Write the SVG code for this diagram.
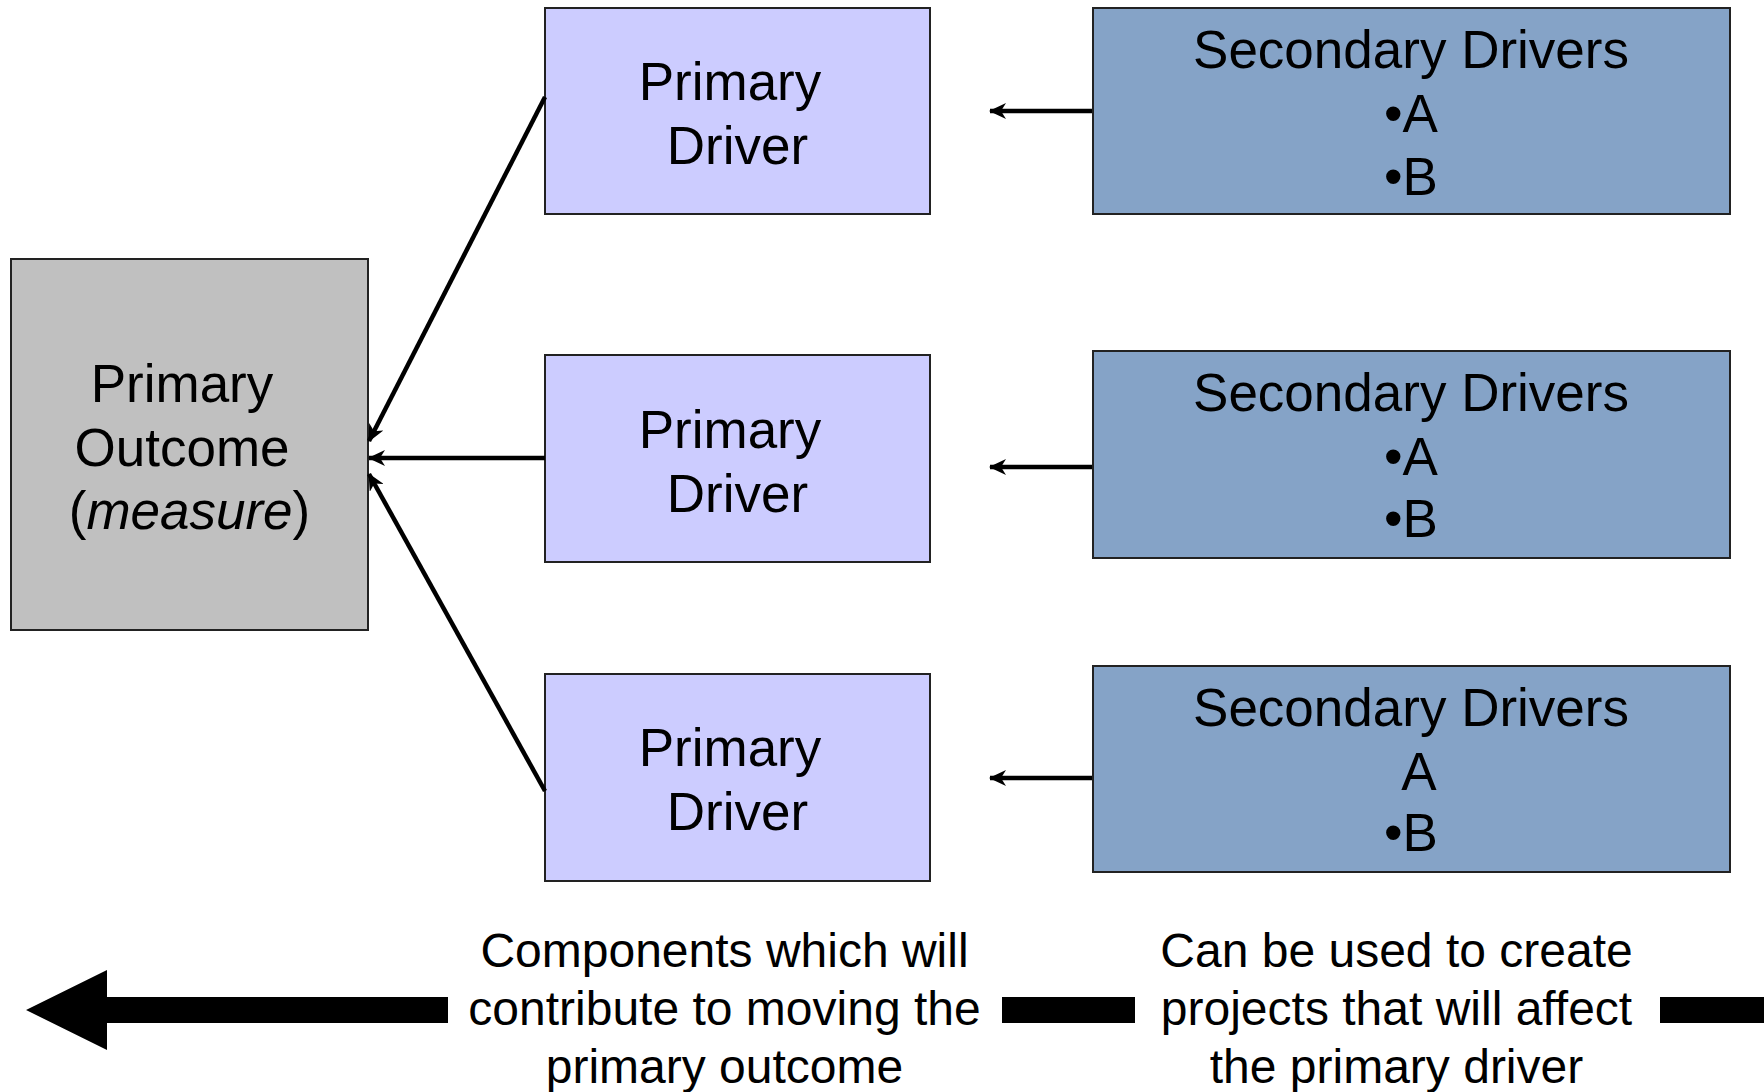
<svg xmlns="http://www.w3.org/2000/svg" width="1764" height="1092" viewBox="0 0 1764 1092">
<style>
  text { font-family: "Liberation Sans", Arial, sans-serif; fill: #000; text-anchor: middle; }
  .t53 { font-size: 53px; }
  .t48 { font-size: 48px; }
  .outcome { fill: #C0C0C0; stroke: #222; stroke-width: 2; }
  .primary { fill: #CCCCFF; stroke: #222; stroke-width: 2; }
  .secondary { fill: #85A3C7; stroke: #222; stroke-width: 2; }
  .conn { stroke: #000; stroke-width: 4.5; fill: none; marker-end: url(#ah); }
  .band { fill: #000; }
</style>
<defs>
  <marker id="ah" viewBox="0 0 17 16" refX="16" refY="8" markerWidth="17" markerHeight="16" markerUnits="userSpaceOnUse" orient="auto">
    <path d="M0,0 L17,8 L0,16 L5,8 Z" fill="#000"/>
  </marker>
</defs>
<rect width="1764" height="1092" fill="#fff"/>

<g id="outcome">
  <rect class="outcome" x="11" y="259" width="357" height="371"/>
  <text class="t53" x="182" y="402">Primary</text>
  <text class="t53" x="182" y="466">Outcome</text>
  <text class="t53" x="189.5" y="529">(<tspan font-style="italic">measure</tspan>)</text>
</g>

<g id="primary1">
  <rect class="primary" x="545" y="8" width="385" height="206"/>
  <text class="t53" x="730" y="100">Primary</text>
  <text class="t53" x="737.5" y="164">Driver</text>
</g>
<g id="primary2">
  <rect class="primary" x="545" y="355" width="385" height="207"/>
  <text class="t53" x="730" y="448">Primary</text>
  <text class="t53" x="737.5" y="512">Driver</text>
</g>
<g id="primary3">
  <rect class="primary" x="545" y="674" width="385" height="207"/>
  <text class="t53" x="730" y="766">Primary</text>
  <text class="t53" x="737.5" y="830">Driver</text>
</g>

<g id="secondary1">
  <rect class="secondary" x="1093" y="8" width="637" height="206"/>
  <text class="t53" x="1411" y="68">Secondary Drivers</text>
  <text class="t53" x="1411" y="132">•A</text>
  <text class="t53" x="1411" y="195">•B</text>
</g>
<g id="secondary2">
  <rect class="secondary" x="1093" y="351" width="637" height="207"/>
  <text class="t53" x="1411" y="411">Secondary Drivers</text>
  <text class="t53" x="1411" y="475">•A</text>
  <text class="t53" x="1411" y="537">•B</text>
</g>
<g id="secondary3">
  <rect class="secondary" x="1093" y="666" width="637" height="206"/>
  <text class="t53" x="1411" y="726">Secondary Drivers</text>
  <text class="t53" x="1419" y="790">A</text>
  <text class="t53" x="1411" y="851">•B</text>
</g>

<g id="connectors">
  <line class="conn" x1="545" y1="97" x2="369" y2="441"/>
  <line class="conn" x1="545" y1="458" x2="369" y2="458"/>
  <line class="conn" x1="545" y1="791" x2="369" y2="474"/>
  <line class="conn" x1="1092" y1="111" x2="990" y2="111"/>
  <line class="conn" x1="1092" y1="467" x2="990" y2="467"/>
  <line class="conn" x1="1092" y1="778" x2="990" y2="778"/>
</g>

<g id="legend">
  <path class="band" d="M26,1010 L107,970 L107,997 L448,997 L448,1023 L107,1023 L107,1050 Z"/>
  <rect class="band" x="1002" y="997" width="133" height="26"/>
  <rect class="band" x="1660" y="997" width="104" height="26"/>
  <text class="t48" x="724.5" y="967">Components which will</text>
  <text class="t48" x="724.5" y="1025">contribute to moving the</text>
  <text class="t48" x="724.5" y="1083">primary outcome</text>
  <text class="t48" x="1396.5" y="967">Can be used to create</text>
  <text class="t48" x="1396.5" y="1025">projects that will affect</text>
  <text class="t48" x="1396.5" y="1083">the primary driver</text>
</g>
</svg>
